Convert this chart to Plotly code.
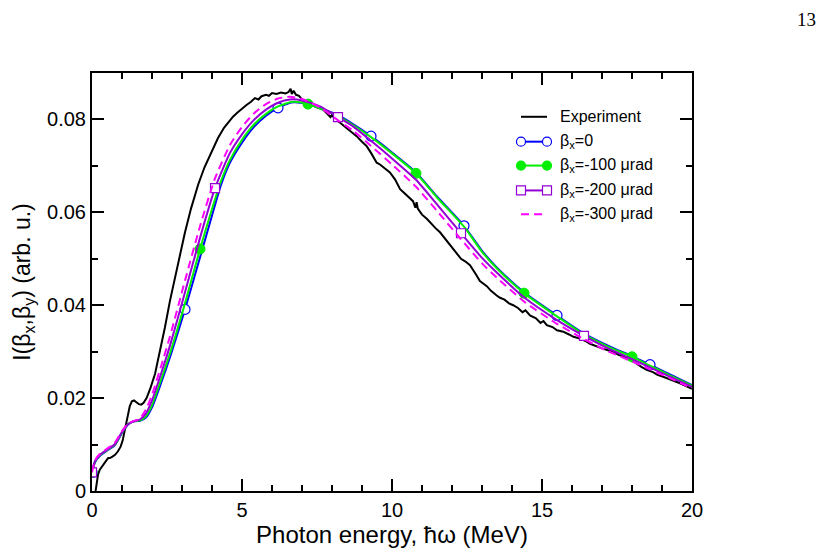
import plotly.graph_objects as go

# ---------------- data ----------------
exp_x = [0.12, 0.16, 0.20, 0.26, 0.32, 0.40, 0.48, 0.54, 0.60, 0.68, 0.77, 0.86, 0.95, 1.02,
         1.10, 1.18, 1.26, 1.33, 1.40, 1.48, 1.56, 1.64, 1.72, 1.82, 1.95, 2.10, 2.25, 2.43,
         2.60, 2.79, 2.95, 3.10, 3.30, 3.54, 3.75, 3.99, 4.20, 4.40, 4.55, 4.70, 4.85, 5.00,
         5.15, 5.30, 5.43, 5.55, 5.65, 5.80, 5.90, 6.00, 6.15, 6.30, 6.45, 6.55, 6.62, 6.66,
         6.72, 6.80, 6.90, 7.04, 7.20, 7.35, 7.50, 7.71, 7.85, 7.95, 8.00, 8.10, 8.27, 8.45,
         8.60, 8.82, 9.00, 9.15, 9.30, 9.49, 9.60, 9.75, 9.93, 10.10, 10.27, 10.40, 10.55,
         10.70, 10.78, 10.82, 10.86, 11.00, 11.16, 11.30, 11.45, 11.60, 11.80, 12.04, 12.15,
         12.30, 12.45, 12.60, 12.80, 12.93, 13.16, 13.30, 13.49, 13.60, 13.75, 13.90, 14.04,
         14.20, 14.35, 14.45, 14.60, 14.80, 14.95, 15.05, 15.16, 15.35, 15.50, 15.71, 15.90,
         16.05, 16.27, 16.45, 16.60, 16.82, 17.00, 17.20, 17.38, 17.55, 17.75, 17.93, 18.10,
         18.30, 18.49, 18.70, 18.85, 19.04, 19.25, 19.45, 19.60, 19.80, 20.00]
exp_y = [0.0000, 0.0020, 0.0035, 0.0046, 0.0052, 0.0058, 0.0066, 0.0071, 0.0071, 0.0074,
         0.0078, 0.0085, 0.0095, 0.0108, 0.0135, 0.0162, 0.0183, 0.0193, 0.0195, 0.0191,
         0.0187, 0.0186, 0.0190, 0.0200, 0.0222, 0.0252, 0.0295, 0.0352, 0.0410, 0.0468,
         0.0515, 0.0557, 0.0608, 0.0660, 0.0697, 0.0732, 0.0760, 0.0782, 0.0794, 0.0806,
         0.0815, 0.0824, 0.0831, 0.0838, 0.0846, 0.0843, 0.0850, 0.0853, 0.0851, 0.0857,
         0.0855, 0.0858, 0.0856, 0.0859, 0.0866, 0.0855, 0.0862, 0.0853, 0.0851, 0.0840,
         0.0835, 0.0831, 0.0826, 0.0821, 0.0812, 0.0805, 0.0810, 0.0800, 0.0793, 0.0784,
         0.0777, 0.0764, 0.0752, 0.0743, 0.0728, 0.0707, 0.0703, 0.0695, 0.0686, 0.0671,
         0.0650, 0.0642, 0.0634, 0.0624, 0.0610, 0.0622, 0.0608, 0.0595, 0.0586, 0.0576,
         0.0566, 0.0557, 0.0541, 0.0521, 0.0514, 0.0500, 0.0494, 0.0486, 0.0466, 0.0452,
         0.0441, 0.0431, 0.0421, 0.0416, 0.0412, 0.0404, 0.0400, 0.0394, 0.0385, 0.0389,
         0.0378, 0.0372, 0.0362, 0.0366, 0.0357, 0.0353, 0.0346, 0.0343, 0.0337, 0.0332,
         0.0328, 0.0323, 0.0317, 0.0311, 0.0307, 0.0303, 0.0300, 0.0293, 0.0289, 0.0282,
         0.0277, 0.0268, 0.0261, 0.0256, 0.0250, 0.0246, 0.0241, 0.0236, 0.0232, 0.0226,
         0.0220]

b0_x = [0, 0.1, 0.25, 0.5, 0.75, 1.0, 1.2, 1.4, 1.6, 1.8, 2.0, 2.3, 2.6, 3.1, 3.6, 4.0, 4.3,
        4.6, 5.0, 5.4, 5.8, 6.2, 6.7, 7.2, 7.7, 8.2, 8.7, 9.3, 10.0, 10.8, 11.5, 12.4, 13.0,
        13.5, 14.4, 15.5, 16.4, 17.2, 18.0, 18.6, 19.3, 20.0]
b0_y = [0.0040, 0.0062, 0.0075, 0.0087, 0.0098, 0.0125, 0.0143, 0.0150, 0.0151, 0.0158,
        0.0180, 0.0232, 0.0288, 0.0391, 0.0503, 0.0593, 0.0659, 0.0707, 0.0750, 0.0784,
        0.0808, 0.0825, 0.0837, 0.0833, 0.0822, 0.0809, 0.0790, 0.0764, 0.0729, 0.0686,
        0.0634, 0.0571, 0.0517, 0.0481, 0.0428, 0.0378, 0.0339, 0.0313, 0.0290, 0.0272,
        0.0250, 0.0228]
b0_marker_x = [0, 3.1, 6.2, 9.3, 12.4, 15.5, 18.6]

b100_x = [0, 0.1, 0.25, 0.5, 0.75, 1.0, 1.2, 1.4, 1.6, 1.8, 2.0, 2.3, 2.6, 3.1, 3.6, 4.0, 4.3,
          4.6, 5.0, 5.4, 5.8, 6.2, 6.7, 7.2, 7.7, 8.2, 8.7, 9.3, 10.0, 10.8, 11.5, 12.4, 13.0,
          13.5, 14.4, 15.5, 16.4, 17.2, 18.0, 18.6, 19.3, 20.0]
b100_y = [0.0040, 0.0063, 0.0076, 0.0088, 0.0099, 0.0126, 0.0144, 0.0150, 0.0152, 0.0161,
          0.0185, 0.0239, 0.0296, 0.0404, 0.0521, 0.0607, 0.0667, 0.0713, 0.0756, 0.0789,
          0.0812, 0.0828, 0.0838, 0.0833, 0.0821, 0.0807, 0.0788, 0.0762, 0.0727, 0.0684,
          0.0632, 0.0569, 0.0515, 0.0479, 0.0426, 0.0376, 0.0337, 0.0311, 0.0289, 0.0270,
          0.0248, 0.0227]
b100_marker_x = [0, 3.6, 7.2, 10.8, 14.4, 18.0]

b200_x = [0, 0.1, 0.25, 0.5, 0.75, 1.0, 1.2, 1.4, 1.6, 1.8, 2.0, 2.3, 2.6, 3.1, 3.6, 4.1, 4.6,
          5.0, 5.4, 5.8, 6.2, 6.6, 7.0, 7.6, 8.2, 8.7, 9.3, 10.0, 10.8, 11.5, 12.3, 13.0, 13.5,
          14.4, 15.5, 16.4, 17.2, 18.0, 18.6, 19.3, 20.0]
b200_y = [0.0040, 0.0064, 0.0077, 0.0089, 0.0100, 0.0127, 0.0144, 0.0150, 0.0154, 0.0167,
          0.0195, 0.0252, 0.0313, 0.0428, 0.0545, 0.0652, 0.0728, 0.0768, 0.0799, 0.0821,
          0.0836, 0.0843, 0.0841, 0.0828, 0.0805, 0.0785, 0.0754, 0.0716, 0.0670, 0.0617,
          0.0555, 0.0502, 0.0470, 0.0417, 0.0368, 0.0334, 0.0307, 0.0284, 0.0266, 0.0245,
          0.0224]
b200_marker_x = [0, 4.1, 8.2, 12.3, 16.4]

b300_x = [0, 0.1, 0.25, 0.5, 0.75, 1.0, 1.2, 1.4, 1.6, 1.8, 2.0, 2.3, 2.6, 3.1, 3.6, 4.1, 4.6,
          5.0, 5.4, 5.8, 6.2, 6.6, 7.0, 7.6, 8.2, 8.7, 9.3, 10.0, 10.8, 11.5, 12.3, 13.0, 13.5,
          14.4, 15.5, 16.4, 17.2, 18.0, 18.6, 19.3, 20.0]
b300_y = [0.0040, 0.0066, 0.0079, 0.0091, 0.0103, 0.0129, 0.0145, 0.0151, 0.0156, 0.0176,
          0.0207, 0.0268, 0.0333, 0.0453, 0.0570, 0.0673, 0.0745, 0.0784, 0.0813, 0.0833,
          0.0845, 0.0849, 0.0844, 0.0826, 0.0798, 0.0776, 0.0743, 0.0703, 0.0655, 0.0603,
          0.0542, 0.0490, 0.0459, 0.0408, 0.0360, 0.0327, 0.0301, 0.0279, 0.0262, 0.0242,
          0.0221]

x_ticks = [0, 5, 10, 15, 20]
x_tick_labels = ["0", "5", "10", "15", "20"]
y_ticks = [0, 0.02, 0.04, 0.06, 0.08]
y_tick_labels = ["0", "0.02", "0.04", "0.06", "0.08"]

legend_labels = ["Experiment", "β<sub>x</sub>=0", "β<sub>x</sub>=-100 μrad",
                 "β<sub>x</sub>=-200 μrad", "β<sub>x</sub>=-300 μrad"]

# ---------------- styles ----------------
FONT = "Liberation Sans, Arial, Helvetica, sans-serif"
C_EXP = "#000000"
C_B0 = "#0000ff"
C_B100 = "#00ee00"
C_B200 = "#9400d3"
C_B300 = "#ff00ff"


def pick(xs, ys, mx):
    d = dict(zip(xs, ys))
    return [d[v] for v in mx]


fig = go.Figure()

fig.add_trace(go.Scatter(x=exp_x, y=exp_y, mode="lines",
                         line=dict(color=C_EXP, width=2), showlegend=False))

# beta = 0
fig.add_trace(go.Scatter(x=b0_x, y=b0_y, mode="lines",
                         line=dict(color=C_B0, width=2, shape="spline", smoothing=0.6),
                         showlegend=False))
fig.add_trace(go.Scatter(x=b0_marker_x, y=pick(b0_x, b0_y, b0_marker_x), mode="markers",
                         marker=dict(symbol="circle", size=10, color="white",
                                     line=dict(color=C_B0, width=1.2)),
                         showlegend=False))
# beta = -100
fig.add_trace(go.Scatter(x=b100_x, y=b100_y, mode="lines",
                         line=dict(color=C_B100, width=2, shape="spline", smoothing=0.6),
                         showlegend=False))
fig.add_trace(go.Scatter(x=b100_marker_x, y=pick(b100_x, b100_y, b100_marker_x),
                         mode="markers",
                         marker=dict(symbol="circle", size=10, color=C_B100,
                                     line=dict(color=C_B100, width=1)),
                         showlegend=False))
# beta = -200
fig.add_trace(go.Scatter(x=b200_x, y=b200_y, mode="lines",
                         line=dict(color=C_B200, width=2, shape="spline", smoothing=0.6),
                         showlegend=False))
fig.add_trace(go.Scatter(x=b200_marker_x, y=pick(b200_x, b200_y, b200_marker_x),
                         mode="markers",
                         marker=dict(symbol="square", size=9, color="white",
                                     line=dict(color=C_B200, width=1.2)),
                         showlegend=False))
# beta = -300
fig.add_trace(go.Scatter(x=b300_x, y=b300_y, mode="lines",
                         line=dict(color=C_B300, width=2, shape="spline", smoothing=0.6,
                                   dash="8px,5px"),
                         showlegend=False))

# ---------------- layout ----------------
L, R, T, B = 92, 135, 73, 59
W, H = 827, 552
PW, PH = W - L - R, H - T - B


def px2paper(px, py):
    return (px - L) / PW, (H - B - py) / PH


axis_common = dict(
    showline=True, linecolor="black", linewidth=2, mirror="allticks",
    ticks="inside", ticklen=12, tickwidth=1.5, tickcolor="black",
    showgrid=False, zeroline=False,
    tickfont=dict(family=FONT, size=20, color="black"),
)

fig.update_xaxes(range=[0, 20], tickvals=x_ticks, ticktext=x_tick_labels,
                 minor=dict(ticks="inside", ticklen=6, tickwidth=1.5, dtick=1,
                            tickcolor="black", showgrid=False),
                 title=dict(text="Photon energy, ħω (MeV)",
                            font=dict(family=FONT, size=24, color="black"), standoff=2),
                 **axis_common)
fig.update_yaxes(range=[0, 0.09], tickvals=y_ticks, ticktext=y_tick_labels,
                 minor=dict(ticks="inside", ticklen=6, tickwidth=1.5, dtick=0.01,
                            tickcolor="black", showgrid=False),
                 title=dict(text="I(β<sub>x</sub>,β<sub>y</sub>) (arb. u.)",
                            font=dict(family=FONT, size=23, color="black"), standoff=10),
                 **axis_common)

# custom legend (Grace style: symbol at both ends of the line sample)
rows = [117, 142, 166, 191, 215]
lx0, lx1, tx = 521, 547, 558
leg_styles = [
    dict(color=C_EXP, dash="solid", sym=None, fill=None),
    dict(color=C_B0, dash="solid", sym="circle", fill="white"),
    dict(color=C_B100, dash="solid", sym="circle", fill=C_B100),
    dict(color=C_B200, dash="solid", sym="square", fill="white"),
    dict(color=C_B300, dash="8px,5px", sym=None, fill=None),
]
shapes = []
annotations = []
for ry, lab, st in zip(rows, legend_labels, leg_styles):
    xa, ya = px2paper(lx0, ry)
    xb, _ = px2paper(lx1, ry)
    shapes.append(dict(type="line", xref="paper", yref="paper", x0=xa, x1=xb, y0=ya, y1=ya,
                       line=dict(color=st["color"], width=2, dash=st["dash"])))
    if st["sym"]:
        for xx in (xa, xb):
            shapes.append(dict(type="circle" if st["sym"] == "circle" else "rect",
                               xref="paper", yref="paper",
                               xsizemode="pixel", ysizemode="pixel",
                               xanchor=xx, yanchor=ya, x0=-4.5, x1=4.5, y0=-4.5, y1=4.5,
                               fillcolor=st["fill"],
                               line=dict(color=st["color"], width=1.2)))
    tx_p, _ = px2paper(tx, ry)
    annotations.append(dict(x=tx_p, y=ya, xref="paper", yref="paper", text=lab,
                            showarrow=False, xanchor="left", yanchor="middle",
                            font=dict(family=FONT, size=16, color="black")))

# page number
pnx, pny = px2paper(806, 19)
annotations.append(dict(x=pnx, y=pny, xref="paper", yref="paper", text="13",
                        showarrow=False, xanchor="center", yanchor="middle",
                        font=dict(family="Liberation Serif, DejaVu Serif, serif", size=19,
                                  color="black")))

fig.update_layout(width=W, height=H, margin=dict(l=L, r=R, t=T, b=B),
                  paper_bgcolor="white", plot_bgcolor="white",
                  shapes=shapes, annotations=annotations, showlegend=False)

fig.write_html("out.html")
